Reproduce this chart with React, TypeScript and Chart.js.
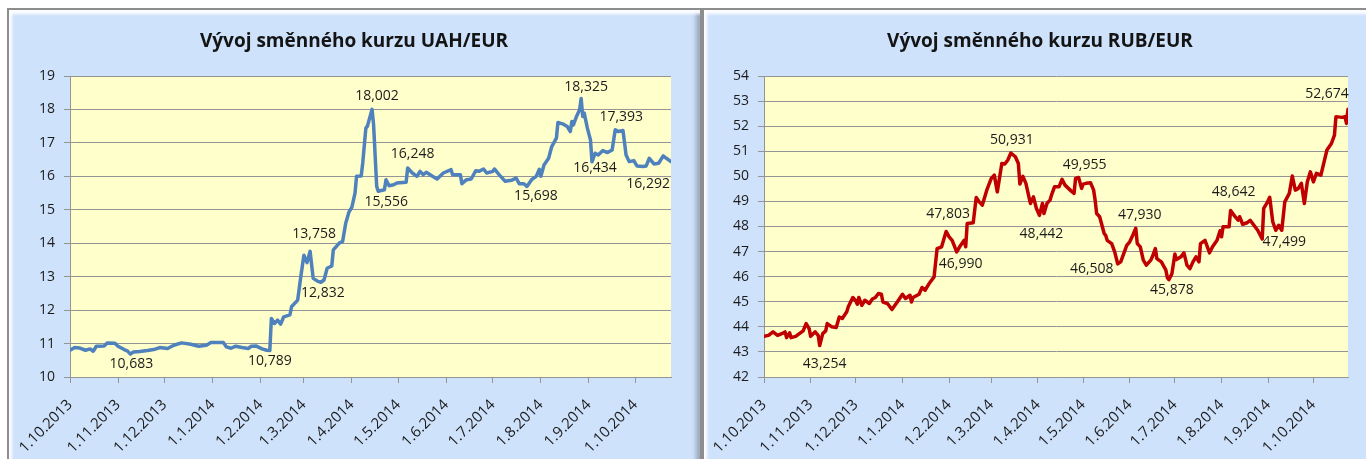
import React, { useEffect, useRef } from "react";
import { Chart, registerables } from "chart.js";

Chart.register(...registerables);

// ---- axis ticks (days since 1.10.2013) ----
const tickDays = [0, 31, 61, 92, 123, 151, 182, 212, 243, 273, 304, 335, 365];
const tickLabels = [
  "1.10.2013", "1.11.2013", "1.12.2013", "1.1.2014", "1.2.2014", "1.3.2014",
  "1.4.2014", "1.5.2014", "1.6.2014", "1.7.2014", "1.8.2014", "1.9.2014", "1.10.2014",
];
const lastDay = 388;

// ---- UAH/EUR ----
const uahDays = [
  0, 3, 6, 10, 13, 15, 17, 22, 24, 29, 31, 35, 37, 39, 41, 45, 50, 54, 58, 63,
  67, 72, 78, 83, 88, 91, 99, 101, 104, 107, 111, 115, 117, 120, 124, 127, 129, 130, 132, 134,
  136, 138, 142, 143, 147, 149, 151, 153, 155, 157, 160, 162, 164, 166, 169, 170, 174, 176, 178, 180,
  182, 184, 185, 188, 189, 191, 192, 195, 196, 198, 199, 203, 204, 206, 209, 211, 217, 218, 221, 224,
  226, 228, 230, 234, 237, 241, 246, 247, 252, 253, 256, 259, 262, 264, 267, 269, 273, 274, 277, 281,
  285, 288, 290, 293, 295, 298, 301, 303, 304, 306, 309, 311, 314, 315, 318, 321, 323, 324, 325, 327,
  329, 330, 331, 332, 334, 336, 337, 339, 341, 344, 347, 350, 352, 354, 357, 359, 361, 364, 366, 370,
  372, 374, 377, 380, 383, 385, 388,
];
const uahValues = [
  10.80, 10.88, 10.87, 10.80, 10.84, 10.77, 10.92, 10.93, 11.02, 11.01, 10.92, 10.82, 10.78, 10.683, 10.75, 10.76, 10.79, 10.82, 10.88, 10.85,
  10.95, 11.02, 10.98, 10.92, 10.95, 11.03, 11.03, 10.90, 10.86, 10.92, 10.88, 10.85, 10.92, 10.93, 10.84, 10.80, 10.789, 11.75, 11.60, 11.70,
  11.58, 11.80, 11.86, 12.10, 12.30, 13.00, 13.64, 13.42, 13.758, 12.95, 12.86, 12.832, 12.90, 13.25, 13.32, 13.80, 14.01, 14.05, 14.60, 14.92,
  15.08, 15.50, 16.00, 16.01, 16.40, 17.44, 17.50, 18.002, 17.54, 15.70, 15.556, 15.60, 15.90, 15.72, 15.75, 15.80, 15.82, 16.248, 16.10, 16.00,
  16.15, 16.05, 16.12, 16.00, 15.92, 16.10, 16.20, 16.05, 16.05, 15.78, 15.90, 15.92, 16.17, 16.15, 16.22, 16.10, 16.15, 16.22, 16.05, 15.85,
  15.88, 15.95, 15.78, 15.78, 15.698, 15.90, 16.00, 16.21, 16.00, 16.34, 16.54, 16.89, 17.14, 17.61, 17.57, 17.49, 17.34, 17.64, 17.54, 17.79,
  17.99, 18.325, 17.79, 17.89, 17.44, 17.09, 16.434, 16.69, 16.64, 16.77, 16.71, 16.79, 17.393, 17.34, 17.37, 16.64, 16.44, 16.47, 16.31, 16.292,
  16.31, 16.54, 16.37, 16.39, 16.61, 16.54, 16.44,
];
const uahLabelDays = [39, 129, 155, 162, 195, 199, 218, 295, 330, 337, 352, 370];

// ---- RUB/EUR ----
const rubDays = [
  0, 3, 6, 9, 13, 14, 15, 17, 18, 21, 26, 28, 30, 31, 34, 36, 37, 39, 41, 42,
  45, 48, 50, 52, 55, 56, 59, 61, 62, 63, 65, 67, 70, 72, 74, 76, 78, 79, 82, 85,
  87, 89, 92, 94, 97, 98, 99, 103, 105, 107, 110, 113, 115, 118, 121, 123, 125, 128, 130, 133,
  134, 135, 139, 141, 143, 145, 148, 151, 153, 155, 158, 160, 162, 164, 167, 169, 170, 172, 174, 176,
  177, 179, 181, 183, 185, 186, 188, 190, 191, 193, 196, 198, 200, 204, 206, 207, 209, 211, 212, 214,
  217, 219, 220, 221, 223, 226, 227, 228, 231, 233, 235, 237, 239, 241, 243, 245, 247, 248, 250, 252,
  254, 257, 258, 260, 261, 264, 267, 268, 269, 271, 273, 274, 277, 279, 281, 283, 285, 287, 289, 290,
  293, 296, 298, 301, 303, 304, 305, 309, 310, 313, 315, 316, 318, 321, 323, 325, 328, 331, 332, 334,
  336, 338, 340, 342, 344, 346, 349, 351, 353, 355, 357, 359, 361, 363, 365, 367, 370, 374, 377, 379,
  380, 384, 386, 387, 388,
];
const rubValues = [
  43.62, 43.66, 43.80, 43.66, 43.76, 43.80, 43.57, 43.76, 43.57, 43.62, 43.84, 44.13, 43.93, 43.62, 43.80, 43.66, 43.254, 43.73, 43.84, 44.13,
  44.00, 43.97, 44.39, 44.33, 44.60, 44.80, 45.17, 45.03, 44.90, 45.17, 44.86, 45.06, 44.93, 45.11, 45.17, 45.33, 45.30, 44.99, 44.93, 44.69,
  44.86, 45.03, 45.30, 45.13, 45.26, 44.99, 45.17, 45.30, 45.57, 45.46, 45.75, 45.99, 47.12, 47.19, 47.803, 47.59, 47.45, 46.990, 47.19, 47.45,
  47.19, 48.12, 48.15, 49.16, 48.98, 48.85, 49.45, 49.92, 50.05, 49.38, 50.51, 50.49, 50.65, 50.931, 50.78, 50.51, 49.69, 50.00, 49.72, 49.18,
  48.92, 49.18, 48.72, 48.442, 48.92, 48.52, 48.92, 49.05, 49.25, 49.58, 49.58, 49.88, 49.65, 49.42, 49.32, 49.92, 49.955, 49.52, 49.69, 49.72,
  49.74, 49.45, 49.05, 48.52, 48.39, 47.72, 47.65, 47.45, 47.32, 46.99, 46.508, 46.59, 46.92, 47.25, 47.39, 47.65, 47.930, 47.32, 47.19, 46.66,
  46.46, 46.66, 46.79, 47.12, 46.72, 46.59, 46.26, 45.96, 45.878, 46.12, 46.90, 46.68, 46.79, 46.95, 46.46, 46.32, 46.59, 46.79, 46.59, 47.32,
  47.45, 46.95, 47.19, 47.45, 47.83, 47.59, 47.99, 47.99, 48.642, 48.39, 48.25, 48.39, 48.09, 48.15, 48.25, 48.09, 47.85, 47.499, 48.72, 48.92,
  49.16, 48.19, 47.85, 48.05, 47.85, 48.98, 49.32, 50.01, 49.45, 49.52, 49.72, 48.92, 49.78, 50.18, 49.78, 50.12, 50.05, 51.05, 51.31, 51.64,
  52.38, 52.35, 52.38, 52.11, 52.674,
];
const rubLabelDays = [37, 121, 128, 164, 183, 209, 235, 247, 269, 310, 331, 388];

// ---- label placement offsets (style, px from point) ----
const uahLabelOffsets = [
  [1, 10], [0, 10], [4, -17], [2, 11], [5, -13], [8, 11], [5, -14], [9, 10], [5, -12], [3, 6], [6, -13], [5, 17],
];
const rubLabelOffsets = [
  [5, 18], [2, -17], [4, 12], [1, -13], [2, 19], [6, -12], [-26, 5], [4, -13], [3, 10], [3, -18], [22, 3], [-21, -15],
];

const FONT = '"Open Sans", "Noto Sans", sans-serif';
const TEXT = "#1b1b1b";
const GRID = "#959595";
const PANEL_BG = "#cfe2fb";
const PLOT_BG = "#ffffcc";

const fmt = (v: number) => v.toFixed(3).replace(".", ",");

const plotBg = {
  id: "plotBg",
  beforeDraw(chart: any) {
    const { ctx, chartArea: a } = chart;
    ctx.save();
    ctx.fillStyle = PLOT_BG;
    ctx.fillRect(a.left, a.top, a.right - a.left, a.bottom - a.top);
    ctx.restore();
  },
};

const pointLabels = {
  id: "pointLabels",
  afterDatasetsDraw(chart: any, _args: any, opts: any) {
    const { ctx } = chart;
    const meta = chart.getDatasetMeta(0);
    const ds = chart.data.datasets[0].data as { x: number; y: number }[];
    ctx.save();
    ctx.font = `14px ${FONT}`;
    ctx.fillStyle = TEXT;
    ctx.textAlign = "center";
    ctx.textBaseline = "middle";
    (opts.days as number[]).forEach((d, i) => {
      const idx = ds.findIndex((p) => p.x === d);
      if (idx < 0) return;
      const el = meta.data[idx];
      const [dx, dy] = opts.offsets[i];
      ctx.fillText(fmt(ds[idx].y), el.x + dx, el.y + dy);
    });
    ctx.restore();
  },
};

type Cfg = {
  title: string;
  days: number[];
  values: number[];
  labelDays: number[];
  offsets: number[][];
  color: string;
  yMin: number;
  yMax: number;
  yWidth: number;
};

function makeChart(canvas: HTMLCanvasElement, c: Cfg) {
  const data = c.days.map((d, i) => ({ x: d, y: c.values[i] }));
  return new Chart(canvas, {
    type: "line",
    data: {
      datasets: [
        {
          data,
          borderColor: c.color,
          borderWidth: 3.5,
          pointRadius: 0,
          tension: 0,
          borderJoinStyle: "round",
          borderCapStyle: "round",
        },
      ],
    },
    options: {
      animation: false,
      responsive: false,
      maintainAspectRatio: false,
      layout: { padding: { left: 30, right: 30, top: 0, bottom: 0 } },
      plugins: {
        legend: { display: false },
        tooltip: { enabled: false },
        title: {
          display: true,
          text: c.title,
          color: "#141414",
          font: { family: FONT, size: 19, weight: "bold" },
          padding: { top: 21, bottom: 23.2 },
        },
        pointLabels: { days: c.labelDays, offsets: c.offsets },
      } as any,
      scales: {
        x: {
          type: "linear",
          min: 0,
          max: lastDay,
          afterBuildTicks: (s: any) => {
            s.ticks = tickDays.map((v) => ({ value: v }));
          },
          afterCalculateLabelRotation: (s: any) => {
            s.labelRotation = 45;
          },
          afterFit: (s: any) => {
            s.height = 82;
          },
          ticks: {
            autoSkip: false,
            minRotation: 45,
            maxRotation: 45,
            padding: 13,
            color: TEXT,
            font: { family: FONT, size: 15 },
            callback: (v: any) => tickLabels[tickDays.indexOf(Number(v))] ?? "",
          },
          grid: { drawOnChartArea: false, drawTicks: true, tickLength: 6, color: GRID },
          border: { display: true, color: GRID, width: 1 },
        },
        y: {
          min: c.yMin,
          max: c.yMax,
          afterFit: (s: any) => {
            s.width = c.yWidth;
          },
          ticks: {
            stepSize: 1,
            padding: 9,
            color: TEXT,
            font: { family: FONT, size: 14 },
            callback: (v: any) => String(v),
          },
          grid: { color: GRID, tickLength: 6, lineWidth: 1 },
          border: { display: true, color: GRID, width: 1 },
        },
      },
    } as any,
    plugins: [plotBg, pointLabels],
  });
}

const panelStyle = (left: number, width: number): React.CSSProperties => ({
  position: "absolute",
  left,
  top: 8,
  width,
  height: 470,
  boxSizing: "border-box",
  border: "2px solid #8d8d8d",
  background: PANEL_BG,
  boxShadow:
    "inset 3px 4px 3px rgba(255,255,255,0.95), inset -4px -2px 4px rgba(90,100,115,0.45)",
});

export default function App() {
  const leftRef = useRef<HTMLCanvasElement>(null);
  const rightRef = useRef<HTMLCanvasElement>(null);

  useEffect(() => {
    const a = makeChart(leftRef.current!, {
      title: "Vývoj směnného kurzu UAH/EUR",
      days: uahDays,
      values: uahValues,
      labelDays: uahLabelDays,
      offsets: uahLabelOffsets,
      color: "#4f81bd",
      yMin: 10,
      yMax: 19,
      yWidth: 33,
    });
    const b = makeChart(rightRef.current!, {
      title: "Vývoj směnného kurzu RUB/EUR",
      days: rubDays,
      values: rubValues,
      labelDays: rubLabelDays,
      offsets: rubLabelOffsets,
      color: "#c00000",
      yMin: 42,
      yMax: 54,
      yWidth: 32,
    });
    return () => {
      a.destroy();
      b.destroy();
    };
  }, []);

  return (
    <div
      style={{
        position: "fixed",
        left: 0,
        top: 0,
        width: 1366,
        height: 459,
        overflow: "hidden",
        background: "#ffffff",
      }}
    >
      <div style={panelStyle(7, 695)} />
      <div style={panelStyle(702, 700)} />
      <canvas
        ref={leftRef}
        width={694}
        height={450}
        style={{ position: "absolute", left: 7, top: 9 }}
      />
      <canvas
        ref={rightRef}
        width={676}
        height={450}
        style={{ position: "absolute", left: 702, top: 9 }}
      />
    </div>
  );
}
